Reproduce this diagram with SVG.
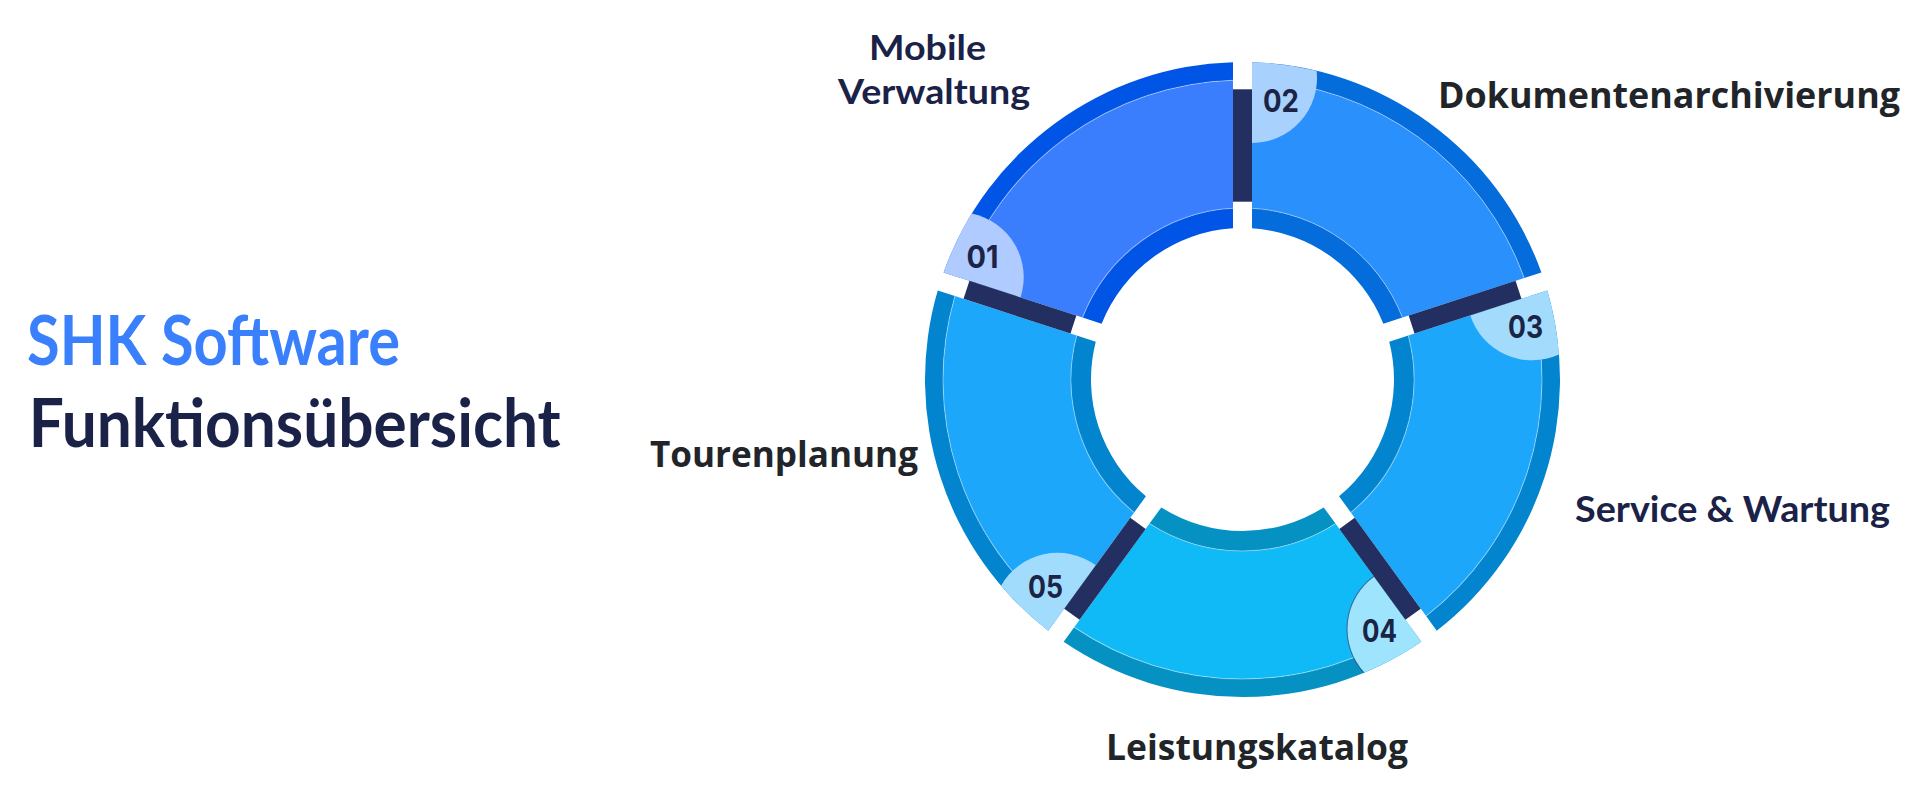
<svg xmlns="http://www.w3.org/2000/svg" width="1912" height="798" viewBox="0 0 1912 798">
<style>
.os{font-family:"Open Sans","Liberation Sans",sans-serif;font-weight:700;fill:#212529}
.geo{font-family:"Lato","Noto Sans",sans-serif;font-weight:700;fill:#1b2248}
.num{font-family:"Inter","Noto Sans",sans-serif;font-weight:700;font-size:31px;fill:#1b2347;text-anchor:middle}
.bar{fill:#232f61}
.sep{fill:none;stroke:#ffffff;stroke-opacity:0.4;stroke-width:1}
</style>
<defs>
<path id="ob" d="M9.5,-317.36 A317.5,317.5 0 0 1 298.89,-107.11 L281.76,-101.54 A299.5,299.5 0 0 0 9.5,-299.35 Z"/>
<path id="mb" d="M9.5,-299.35 A299.5,299.5 0 0 1 281.76,-101.54 L159.92,-61.95 A171.5,171.5 0 0 0 9.5,-171.24 Z"/>
<path id="ib" d="M9.5,-171.24 A171.5,171.5 0 0 1 159.92,-61.95 L140.87,-55.76 A151.5,151.5 0 0 0 9.5,-151.2 Z"/>
<path id="sp" d="M9.5,-299.35 A299.5,299.5 0 0 1 281.76,-101.54 M9.5,-171.24 A171.5,171.5 0 0 1 159.92,-61.95"/>
<path id="bd" d="M9.5,-317.36 A317.5,317.5 0 0 1 74.1,-308.73 A65,65 0 0 1 9.5,-236.5 Z"/>
<rect id="br" x="-9.5" y="-290.2" width="19" height="112.4"/>
</defs>

<g id="title">
<text x="27" y="365" class="geo" font-size="68" fill="#3a80fd" style="fill:#3a80fd" textLength="373" lengthAdjust="spacingAndGlyphs">SHK Software</text>
<text x="28.7" y="447" class="geo" font-size="66" textLength="532" lengthAdjust="spacingAndGlyphs">Funktionsübersicht</text>
</g>

<g id="node-01">
<g transform="translate(1242.5,379.5) rotate(-72)">
<use href="#ob" fill="#0055e6"/>
<use href="#mb" fill="#3a7efd"/>
<use href="#ib" fill="#0055e6"/>
<use href="#sp" class="sep"/>
<use href="#bd" fill="#b0cbff"/>
</g>
<text class="num" x="982.5" y="268" textLength="32" lengthAdjust="spacingAndGlyphs">01</text>
<text class="geo" font-size="34" x="927.5" y="60" text-anchor="middle" textLength="117" lengthAdjust="spacingAndGlyphs">Mobile</text>
<text class="geo" font-size="34" x="934" y="104" text-anchor="middle" textLength="192" lengthAdjust="spacingAndGlyphs">Verwaltung</text>
</g>

<g id="node-02">
<g transform="translate(1242.5,379.5)">
<use href="#ob" fill="#046cdb"/>
<use href="#mb" fill="#2a90fc"/>
<use href="#ib" fill="#046cdb"/>
<use href="#sp" class="sep"/>
<use href="#bd" fill="#a8d2fd"/>
</g>
<text class="num" x="1281" y="112" textLength="36" lengthAdjust="spacingAndGlyphs">02</text>
<text class="os" font-size="35" x="1438" y="108" textLength="462" lengthAdjust="spacingAndGlyphs">Dokumentenarchivierung</text>
</g>

<g id="node-03">
<g transform="translate(1242.5,379.5) rotate(72)">
<use href="#ob" fill="#0284cf"/>
<use href="#mb" fill="#1da7fb"/>
<use href="#ib" fill="#0284cf"/>
<use href="#sp" class="sep"/>
<use href="#bd" fill="#a3dbfc"/>
</g>
<text class="num" x="1525.5" y="338" textLength="35" lengthAdjust="spacingAndGlyphs">03</text>
<text class="geo" font-size="37" x="1575" y="521.7" textLength="315" lengthAdjust="spacingAndGlyphs">Service &amp; Wartung</text>
</g>

<g id="node-04">
<g transform="translate(1242.5,379.5) rotate(144)">
<use href="#ob" fill="#0592c3"/>
<use href="#mb" fill="#0fbaf7"/>
<use href="#ib" fill="#0592c3"/>
<use href="#sp" class="sep"/>
<use href="#bd" fill="#9ee4fd"/>
<path d="M74.1,-308.73 A65,65 0 0 1 9.5,-236.5" fill="none" stroke="#1b2a5a" stroke-opacity="0.6" stroke-width="1"/>
</g>
<text class="num" x="1379.5" y="642" textLength="35" lengthAdjust="spacingAndGlyphs">04</text>
<text class="os" font-size="36" x="1106" y="760" textLength="302" lengthAdjust="spacingAndGlyphs">Leistungskatalog</text>
</g>

<g id="node-05">
<g transform="translate(1242.5,379.5) rotate(216)">
<use href="#ob" fill="#0284cf"/>
<use href="#mb" fill="#1da7fb"/>
<use href="#ib" fill="#0284cf"/>
<use href="#sp" class="sep"/>
<use href="#bd" fill="#a2dcfc"/>
</g>
<text class="num" x="1045.5" y="598" textLength="35" lengthAdjust="spacingAndGlyphs">05</text>
<text class="os" font-size="35" x="650" y="466.7" textLength="268" lengthAdjust="spacingAndGlyphs">Tourenplanung</text>
</g>

<g id="connectors" transform="translate(1242.5,379.5)">
<use href="#br" class="bar"/>
<use href="#br" class="bar" transform="rotate(72)"/>
<use href="#br" class="bar" transform="rotate(144)"/>
<use href="#br" class="bar" transform="rotate(216)"/>
<use href="#br" class="bar" transform="rotate(288)"/>
</g>
</svg>
